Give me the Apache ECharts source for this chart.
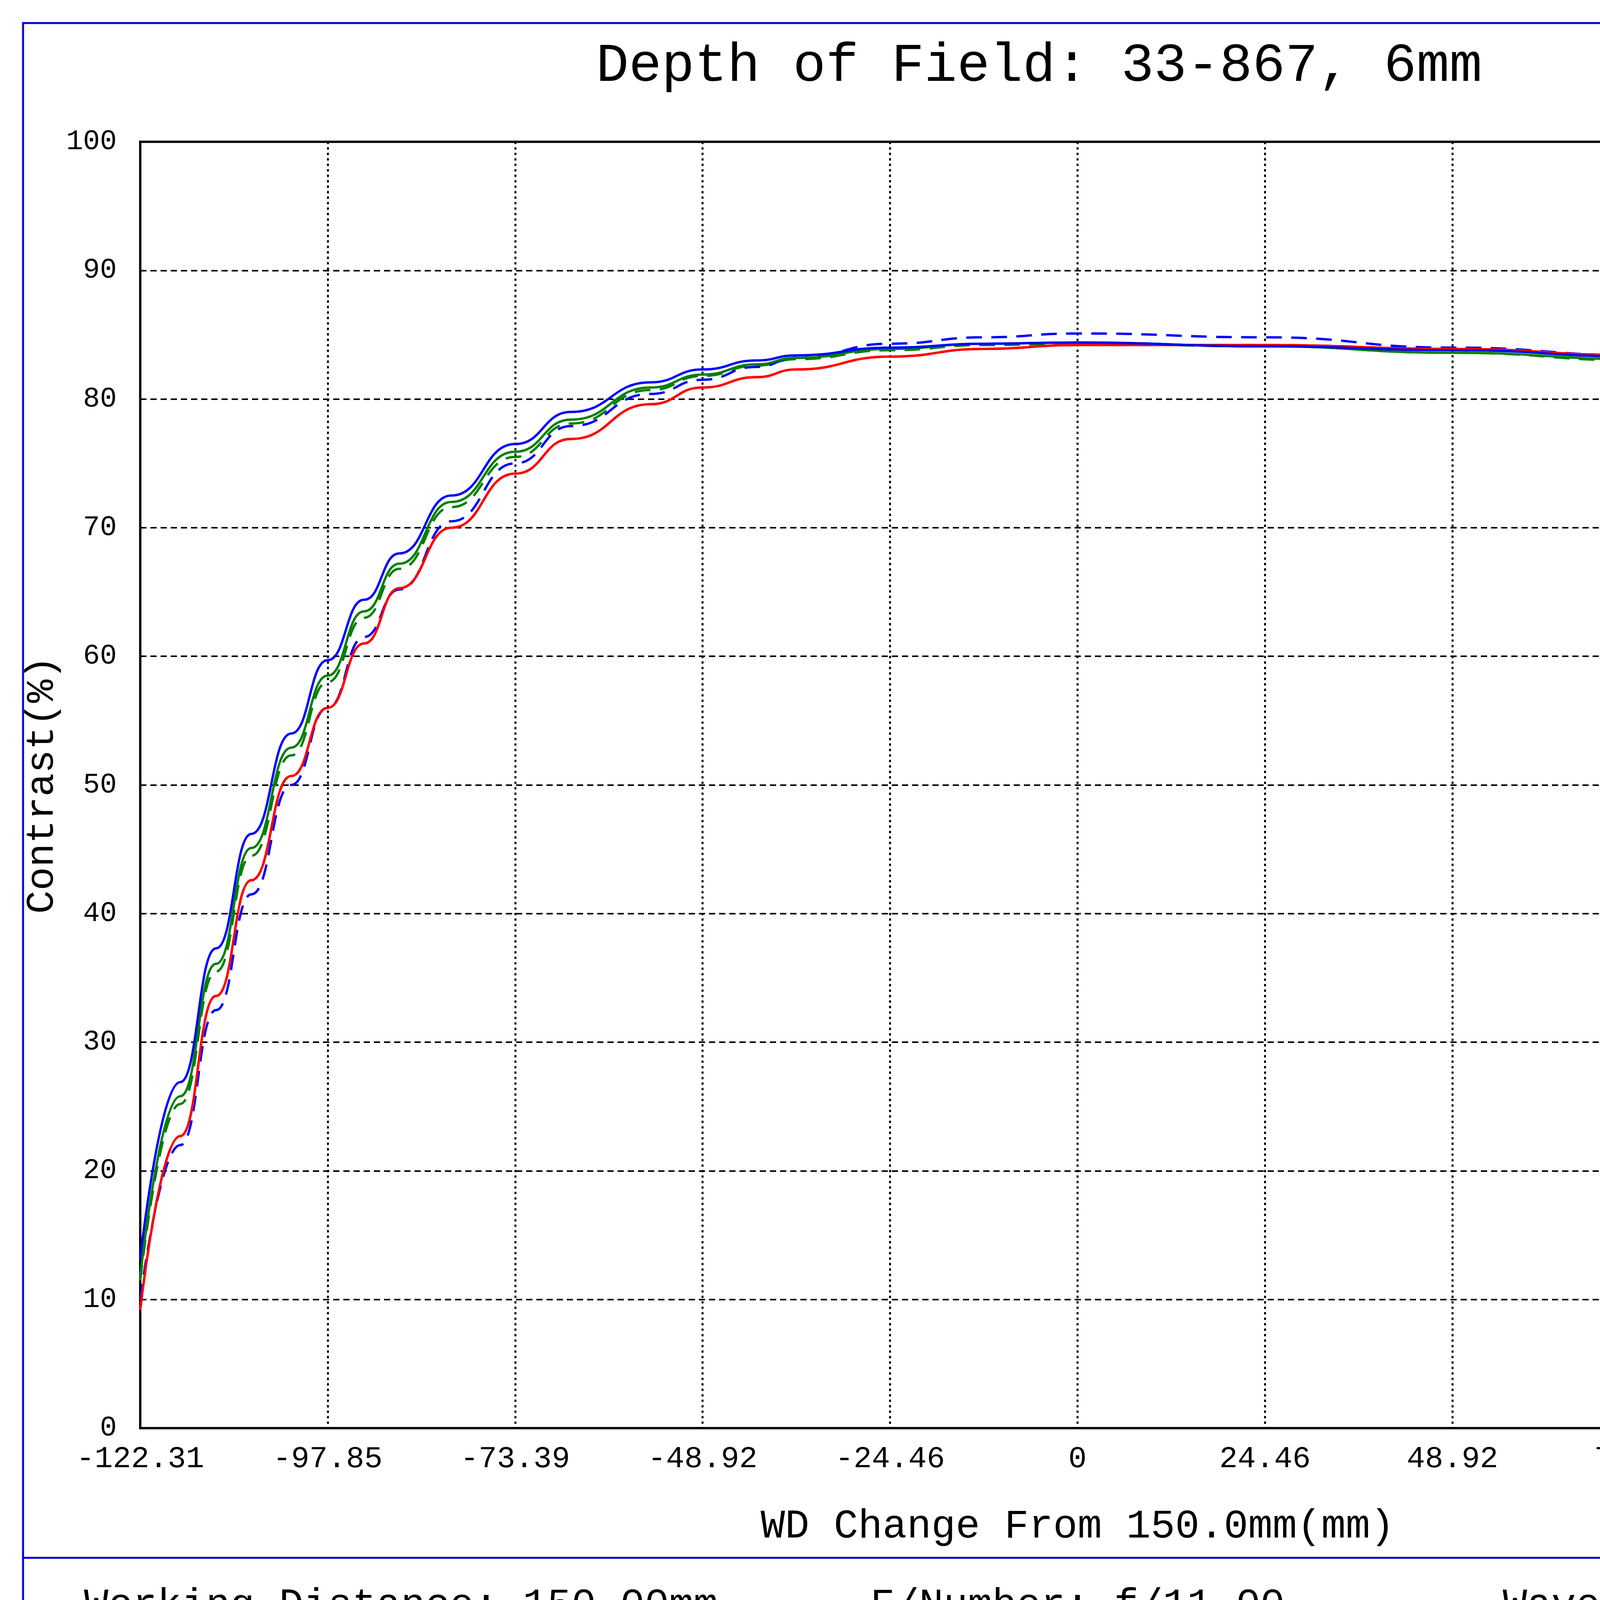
<!DOCTYPE html>
<html><head><meta charset="utf-8">
<script src="https://cdn.jsdelivr.net/npm/echarts@6/dist/echarts.min.js"></script>
<style>html,body{margin:0;padding:0;background:#fff}#c{width:6118px;height:4327px}</style>
</head><body><div id="c"></div>
<script>
const xs = [-122.31,-117.1,-112.4,-107.8,-102.6,-97.85,-93.1,-88.5,-81.7,-73.39,-66.1,-55.7,-48.92,-41.9,-36.7,-24.46,-12.23,0,24.46,48.92,73.39,97.85,122.31];
const redSolid = [9.2,22.7,33.6,42.6,50.7,56,61,65.3,70,74.2,76.9,79.6,80.9,81.7,82.3,83.3,83.9,84.2,84.2,83.9,83.4,83,82.5];
const redDash = [9.2,22.7,33.6,42.6,50.7,56,61,65.3,70,74.2,76.9,79.6,80.9,81.7,82.3,83.3,83.9,84.2,84.2,83.9,83.4,83,82.5];
const greenSolid = [11.8,25.8,36.1,45.1,52.9,58.5,63.5,67.2,72,75.9,78.4,80.9,81.9,82.7,83.2,83.9,84.3,84.4,84.1,83.6,83.1,82.5,82];
const greenDash = [11.5,25.2,35.5,44.5,52.3,58,63,66.8,71.6,75.5,78.1,80.7,81.8,82.6,83.1,83.8,84.2,84.3,84.1,83.6,83,82.4,81.9];
const blueSolid = [13.2,26.9,37.3,46.2,54,59.7,64.4,68,72.5,76.5,79,81.3,82.3,83,83.4,84,84.3,84.4,84.1,83.8,83.3,82.6,82];
const blueDash = [10,22,32.5,41.5,50,56,61.5,65.2,70.5,75,77.9,80.4,81.5,82.5,83.2,84.3,84.8,85.1,84.8,84,83.4,82.7,81.9];
const xTickLabels = ['-122.31','-97.85','-73.39','-48.92','-24.46','0','24.46','48.92','73.39','97.85','122.31'];
const legendNames = ['TS,0.00mm','TS,2.80mm','TS,4.00mm'];
const colors = ['#ff0000','#008000','#0000ff'];

const F = 'Liberation Mono, DejaVu Sans Mono, monospace';
const chart = echarts.init(document.getElementById('c'));
function mk(ys, color, dashed, z) {
  return { type:'line', data: xs.map((x,i)=>[x, ys[i]]), smooth:0.5, smoothMonotone:'x', showSymbol:false, z:z,
    lineStyle:{color:color, width:6, type: dashed ? [40,24] : 'solid'} };
}
const legendGraphics = [{type:'text', left:5221, top:1195, style:{text:'Fields', font:'82px '+F, fill:'#000'}}];
legendNames.forEach((n,i)=>{
  const y = 1401 + i*164;
  legendGraphics.push({type:'line', shape:{x1:5221,y1:y-10,x2:5311,y2:y-10}, style:{stroke:colors[i], lineWidth:6}});
  legendGraphics.push({type:'line', shape:{x1:5221,y1:y+8,x2:5298,y2:y+8}, style:{stroke:colors[i], lineWidth:6, lineDash:[18,12]}});
  legendGraphics.push({type:'text', left:5365, top:y-42, style:{text:n, font:'82px '+F, fill:'#000'}});
});
chart.setOption({
  animation:false,
  backgroundColor:'#fff',
  title:{text:'Depth of Field: 33-867, 6mm', left:2655, top:95, textAlign:'center',
    textStyle:{fontFamily:F, fontSize:140, fontWeight:'normal', color:'#000'}},
  grid:{left:359, right:6118-5158, top:363, bottom:4327-3656, show:true, borderColor:'#000', borderWidth:6},
  xAxis:{type:'value', min:-122.31, max:122.31, interval:24.462,
    name:'WD Change From 150.0mm(mm)', nameLocation:'middle', nameGap:200,
    nameTextStyle:{fontFamily:F, fontSize:104, color:'#000'},
    axisLine:{onZero:false, lineStyle:{color:'#000', width:6}}, axisTick:{show:false},
    axisLabel:{fontFamily:F, fontSize:78, color:'#000', margin:40,
      formatter:(v)=>{const i=Math.round((v+122.31)/24.462); return xTickLabels[i]||'';}},
    splitLine:{lineStyle:{color:'#000', width:5, type:[6,8]}}},
  yAxis:{type:'value', min:0, max:100, interval:10,
    name:'Contrast(%)', nameLocation:'middle', nameGap:200,
    nameTextStyle:{fontFamily:F, fontSize:100, color:'#000'},
    axisLine:{onZero:false, lineStyle:{color:'#000', width:6}}, axisTick:{show:false},
    axisLabel:{fontFamily:F, fontSize:72, color:'#000', margin:60},
    splitLine:{lineStyle:{color:'#000', width:4, type:[16,10]}}},
  series:[mk(redDash,colors[0],true,2), mk(greenDash,colors[1],true,3), mk(blueDash,colors[2],true,4),
          mk(redSolid,colors[0],false,5), mk(greenSolid,colors[1],false,6), mk(blueSolid,colors[2],false,7)],
  graphic:[
    {type:'rect', shape:{x:59,y:59,width:5997,height:4198}, style:{fill:'none', stroke:'#0000cc', lineWidth:5}},
    {type:'line', shape:{x1:59,y1:3988,x2:6056,y2:3988}, style:{stroke:'#0000cc', lineWidth:5}},
    {type:'text', left:215, top:4058, style:{text:'Working Distance: 150.00mm', font:'104px '+F, fill:'#000'}},
    {type:'text', left:2228, top:4058, style:{text:'F/Number: f/11.00', font:'104px '+F, fill:'#000'}},
    {type:'text', left:3847, top:4058, style:{text:'Wavelength Range: 486nm-656nm', font:'104px '+F, fill:'#000'}},
    {type:'line', shape:{x1:0,y1:4315,x2:6118,y2:4315}, style:{stroke:'#000', lineWidth:8}},
    ...legendGraphics
  ]
});
</script></body></html>
